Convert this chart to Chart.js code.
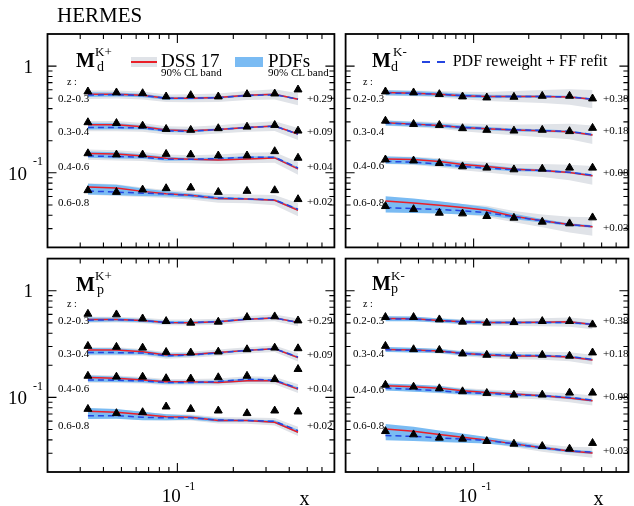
<!DOCTYPE html>
<html><head><meta charset="utf-8">
<script src="https://cdn.jsdelivr.net/npm/chart.js@4.4.1/dist/chart.umd.min.js"></script>
<style>
html,body{margin:0;padding:0;background:#fff;}
#wrap{position:relative;width:634px;height:506px;overflow:hidden;font-family:"Liberation Serif","Times New Roman",serif;color:#000;}
canvas{position:absolute;}
.t{position:absolute;white-space:nowrap;line-height:1;z-index:5;}
.sw{position:absolute;z-index:5;}
</style></head><body>
<div id="wrap">
<canvas id="cTL" width="340" height="253" style="left:0;top:0"></canvas>
<canvas id="cTR" width="294" height="253" style="left:340px;top:0"></canvas>
<canvas id="cBL" width="340" height="253" style="left:0;top:253px"></canvas>
<canvas id="cBR" width="294" height="253" style="left:340px;top:253px"></canvas>
</div>
<script>
// ---------------- data ----------------
const xValues = [0.033, 0.047, 0.065, 0.087, 0.118, 0.166, 0.237, 0.334, 0.446];
const zBins = ['0.2-0.3', '0.3-0.4', '0.4-0.6', '0.6-0.8'];
const offsetsKplus = ['+0.29', '+0.09', '+0.04', '+0.02'];
const offsetsKminus = ['+0.38', '+0.18', '+0.08', '+0.03'];
const yTickValues = [1, 0.1];
const yTickBase = ['1', '10'];
const yTickSup = ['', '-1'];
const xTickValues = [0.1];
const xTickBase = ['10'];
const xTickSup = ['-1'];

// deuteron K+ (HERMES points, DSS17, PDF reweight + FF refit), values as plotted (incl. offsets)
const dKp_data = [
  [0.577, 0.565, 0.556, 0.518, 0.533, 0.518, 0.545, 0.552, 0.602],
  [0.297, 0.292, 0.276, 0.257, 0.252, 0.261, 0.270, 0.280, 0.248],
  [0.152, 0.148, 0.148, 0.150, 0.148, 0.145, 0.145, 0.159, 0.138],
  [0.0685, 0.066, 0.0695, 0.0715, 0.0725, 0.066, 0.0675, 0.0685, 0.0565]
];
const dKp_dss = [
  [0.545, 0.545, 0.533, 0.500, 0.500, 0.507, 0.533, 0.545, 0.489],
  [0.282, 0.282, 0.270, 0.252, 0.248, 0.255, 0.266, 0.274, 0.231],
  [0.152, 0.150, 0.144, 0.137, 0.134, 0.132, 0.135, 0.138, 0.109],
  [0.0735, 0.072, 0.067, 0.0637, 0.0615, 0.0573, 0.0569, 0.0552, 0.0446]
];
const dKp_refit = [
  [0.535, 0.540, 0.530, 0.500, 0.500, 0.505, 0.530, 0.540, 0.490],
  [0.266, 0.266, 0.263, 0.248, 0.245, 0.255, 0.266, 0.274, 0.231],
  [0.144, 0.142, 0.140, 0.134, 0.134, 0.136, 0.140, 0.140, 0.111],
  [0.0675, 0.066, 0.0645, 0.0632, 0.0613, 0.0582, 0.0569, 0.0558, 0.0455]
];
// deuteron K-
const dKm_data = [
  [0.577, 0.565, 0.545, 0.518, 0.507, 0.514, 0.525, 0.525, 0.496],
  [0.307, 0.286, 0.280, 0.261, 0.252, 0.248, 0.252, 0.245, 0.263],
  [0.133, 0.130, 0.123, 0.1146, 0.1114, 0.1074, 0.109, 0.1114, 0.1114],
  [0.0486, 0.0455, 0.0421, 0.0415, 0.0392, 0.0378, 0.0347, 0.0335, 0.0381]
];
const dKm_dss = [
  [0.565, 0.556, 0.545, 0.529, 0.518, 0.518, 0.518, 0.514, 0.489],
  [0.294, 0.286, 0.278, 0.266, 0.259, 0.252, 0.248, 0.243, 0.226],
  [0.135, 0.133, 0.1275, 0.1196, 0.1146, 0.1081, 0.1051, 0.1007, 0.0938],
  [0.0545, 0.0522, 0.0496, 0.0472, 0.0446, 0.0392, 0.0355, 0.0328, 0.0312]
];
const dKm_refit = [
  [0.560, 0.555, 0.545, 0.530, 0.520, 0.520, 0.520, 0.515, 0.490],
  [0.292, 0.285, 0.278, 0.267, 0.260, 0.253, 0.249, 0.244, 0.228],
  [0.128, 0.126, 0.121, 0.1146, 0.111, 0.1067, 0.1051, 0.101, 0.0952],
  [0.0472, 0.0462, 0.0453, 0.0441, 0.0424, 0.0387, 0.0355, 0.0326, 0.0315]
];
// proton K+
const pKp_data = [
  [0.606, 0.598, 0.548, 0.518, 0.500, 0.511, 0.565, 0.573, 0.525],
  [0.303, 0.297, 0.292, 0.266, 0.263, 0.268, 0.282, 0.292, 0.288],
  [0.159, 0.156, 0.156, 0.151, 0.150, 0.154, 0.159, 0.148, 0.184],
  [0.0778, 0.0710, 0.0725, 0.0819, 0.0778, 0.0751, 0.0710, 0.0751, 0.0735]
];
const pKp_dss = [
  [0.537, 0.537, 0.525, 0.503, 0.500, 0.511, 0.541, 0.556, 0.505],
  [0.278, 0.278, 0.268, 0.250, 0.253, 0.263, 0.276, 0.286, 0.236],
  [0.154, 0.151, 0.146, 0.140, 0.140, 0.138, 0.143, 0.143, 0.1196],
  [0.0741, 0.0725, 0.069, 0.066, 0.0651, 0.0607, 0.0607, 0.0585, 0.0472]
];
const pKp_refit = [
  [0.530, 0.535, 0.525, 0.505, 0.505, 0.513, 0.540, 0.555, 0.505],
  [0.263, 0.263, 0.261, 0.245, 0.250, 0.261, 0.276, 0.286, 0.239],
  [0.146, 0.145, 0.143, 0.138, 0.138, 0.141, 0.148, 0.145, 0.122],
  [0.0675, 0.0675, 0.0651, 0.0644, 0.0644, 0.0614, 0.0607, 0.0597, 0.0488]
];
// proton K-
const pKm_data = [
  [0.565, 0.565, 0.537, 0.511, 0.500, 0.507, 0.518, 0.518, 0.482],
  [0.303, 0.282, 0.278, 0.257, 0.250, 0.245, 0.250, 0.245, 0.263],
  [0.131, 0.1257, 0.1213, 0.1138, 0.1097, 0.1059, 0.1059, 0.1105, 0.1105],
  [0.0482, 0.0449, 0.0418, 0.0409, 0.0389, 0.0367, 0.0349, 0.033, 0.0373]
];
const pKm_dss = [
  [0.548, 0.545, 0.525, 0.511, 0.503, 0.503, 0.507, 0.511, 0.482],
  [0.282, 0.278, 0.272, 0.259, 0.250, 0.245, 0.245, 0.239, 0.224],
  [0.1285, 0.1257, 0.1222, 0.1154, 0.1114, 0.1074, 0.1037, 0.0986, 0.0931],
  [0.0507, 0.0482, 0.0449, 0.0424, 0.040, 0.0367, 0.0337, 0.0314, 0.0301]
];
const pKm_refit = [
  [0.545, 0.543, 0.525, 0.510, 0.505, 0.505, 0.505, 0.503, 0.485],
  [0.280, 0.276, 0.272, 0.258, 0.252, 0.248, 0.246, 0.242, 0.227],
  [0.1222, 0.1189, 0.1154, 0.1114, 0.1089, 0.1059, 0.1037, 0.100, 0.094],
  [0.044, 0.0431, 0.0418, 0.0406, 0.0395, 0.0367, 0.0337, 0.0314, 0.0307]
];
// band half-widths (log10 units)
const dKp_grayW = [0.036, 0.036, 0.036, 0.036, 0.037, 0.039, 0.041, 0.046, 0.056];
const dKp_blueW = [0.018, 0.017, 0.015, 0.013, 0.011, 0.010, 0.009, 0.008, 0.008];
const dKp_blueW4 = [0.032, 0.030, 0.027, 0.022, 0.018, 0.014, 0.010, 0.009, 0.008];
const dKm_grayW = [0.025, 0.027, 0.030, 0.035, 0.042, 0.050, 0.060, 0.072, 0.085];
const dKm_blueW = [0.022, 0.021, 0.019, 0.017, 0.015, 0.013, 0.011, 0.010, 0.009];
const dKm_blueW4 = [0.045, 0.042, 0.038, 0.034, 0.028, 0.022, 0.016, 0.012, 0.010];
const pKp_grayW = [0.026, 0.026, 0.026, 0.026, 0.026, 0.028, 0.029, 0.031, 0.036];
const pKp_blueW = [0.018, 0.017, 0.015, 0.013, 0.011, 0.010, 0.009, 0.008, 0.008];
const pKp_blueW4 = [0.032, 0.030, 0.027, 0.022, 0.018, 0.014, 0.010, 0.009, 0.008];
const pKm_grayW = [0.020, 0.020, 0.022, 0.025, 0.028, 0.032, 0.036, 0.040, 0.045];
const pKm_blueW = [0.022, 0.021, 0.019, 0.017, 0.015, 0.013, 0.011, 0.010, 0.009];
const pKm_blueW4 = [0.045, 0.042, 0.038, 0.034, 0.028, 0.022, 0.016, 0.012, 0.010];

// ---------------- styles ----------------
const RED = '#ea1f28', BLUE = '#2545e0', GRAY = 'rgb(224,227,232)', BLUEBAND = 'rgb(122,187,243)';
const SERIF = '"Liberation Serif","Times New Roman",serif';

function buildDatasets(dataRows, dssRows, refitRows, grayW, blueW, blueW4) {
  const ds = [];
  const pts = arr => arr.map((v, i) => ({x: xValues[i], y: v}));
  const none = {borderColor: 'rgba(0,0,0,0)', borderWidth: 0, pointRadius: 0};
  for (let r = 0; r < 4; r++) {
    const red = dssRows[r], dash = refitRows[r];
    const bw = r === 3 ? blueW4 : blueW;
    const lo = w => red.map((v, i) => Math.min(v, dash[i]) / Math.pow(10, w[i]));
    const hi = w => red.map((v, i) => Math.max(v, dash[i]) * Math.pow(10, w[i]));
    ds.push(Object.assign({data: pts(lo(grayW)), fill: false, order: 6}, none));
    ds.push(Object.assign({data: pts(hi(grayW)), fill: '-1', backgroundColor: GRAY, order: 6}, none));
    ds.push(Object.assign({data: pts(lo(bw)), fill: false, order: 5}, none));
    ds.push(Object.assign({data: pts(hi(bw)), fill: '-1', backgroundColor: BLUEBAND, order: 5}, none));
    ds.push({data: pts(red), borderColor: RED, borderWidth: 1.5, pointRadius: 0, fill: false, order: 3});
    ds.push({data: pts(dash), borderColor: BLUE, borderWidth: 1.5, borderDash: [6, 4], pointRadius: 0, fill: false, order: 2});
    ds.push({data: pts(dataRows[r]), showLine: false, pointStyle: 'triangle', pointRadius: 4.6,
             pointBackgroundColor: '#000', pointBorderColor: '#000', pointBorderWidth: 1, order: 1});
  }
  return ds;
}

const frameTicks = {
  id: 'frameTicks',
  afterDatasetsDraw(chart, args, o) {
    const ctx = chart.ctx, a = chart.chartArea, xs = chart.scales.x, ys = chart.scales.y;
    ctx.save();
    ctx.strokeStyle = '#000';
    ctx.lineWidth = 1.1;
    ctx.beginPath();
    for (const d of [0.01, 0.1, 1]) {
      for (let m = 1; m <= 9; m++) {
        const v = d * m;
        const L = m === 1 ? 9 : 5;
        if (v > xs.min * 1.0001 && v < xs.max * 0.9999) {
          const px = xs.getPixelForValue(v);
          ctx.moveTo(px, a.bottom); ctx.lineTo(px, a.bottom - L);
          ctx.moveTo(px, a.top); ctx.lineTo(px, a.top + L);
        }
        if (v > ys.min * 1.0001 && v < ys.max * 0.9999) {
          const py = ys.getPixelForValue(v);
          ctx.moveTo(a.left, py); ctx.lineTo(a.left + L, py);
          ctx.moveTo(a.right, py); ctx.lineTo(a.right - L, py);
        }
      }
    }
    ctx.stroke();
    ctx.lineWidth = 1.8;
    ctx.strokeRect(a.left, a.top, a.right - a.left, a.bottom - a.top);
    ctx.fillStyle = '#000';
    ctx.textBaseline = 'alphabetic';
    if (o.yLabels) {
      yTickValues.forEach((v, i) => {
        const py = ys.getPixelForValue(v);
        if (yTickSup[i]) {
          ctx.font = '12px ' + SERIF; ctx.textAlign = 'right';
          ctx.fillText(yTickSup[i], a.left - 4.5, py - 7.5);
          const sw = ctx.measureText(yTickSup[i]).width;
          ctx.font = '19px ' + SERIF;
          ctx.fillText(yTickBase[i], a.left - 4.5 - sw - 6, py + 7);
        } else {
          ctx.font = '19px ' + SERIF; ctx.textAlign = 'right';
          ctx.fillText(yTickBase[i], a.left - 14.5, py + 6.5);
        }
      });
    }
    if (o.xLabels) {
      xTickValues.forEach((v, i) => {
        const px = xs.getPixelForValue(v);
        ctx.font = '19px ' + SERIF; ctx.textAlign = 'right';
        ctx.fillText(xTickBase[i], px + 3.4, a.bottom + 29.5);
        ctx.font = '12px ' + SERIF; ctx.textAlign = 'left';
        ctx.fillText(xTickSup[i], px + 8, a.bottom + 18);
      });
      ctx.font = '20px ' + SERIF; ctx.textAlign = 'left';
      ctx.fillText('x', a.right - 35, a.bottom + 33);
    }
    ctx.restore();
  }
};

function makeChart(id, pad, dataRows, dssRows, refitRows, grayW, blueW, blueW4, yLabels, xLabels) {
  return new Chart(document.getElementById(id), {
    type: 'line',
    data: {datasets: buildDatasets(dataRows, dssRows, refitRows, grayW, blueW, blueW4)},
    options: {
      responsive: false, animation: false, devicePixelRatio: 1, events: [],
      layout: {padding: pad},
      plugins: {legend: {display: false}, tooltip: {enabled: false}, frameTicks: {yLabels, xLabels}},
      scales: {
        x: {type: 'logarithmic', min: 0.02, max: 0.7, display: false},
        y: {type: 'logarithmic', min: 0.02, max: 2, display: false}
      }
    },
    plugins: [frameTicks]
  });
}

makeChart('cTL', {left: 47.5, right: 3, top: 34, bottom: 4}, dKp_data, dKp_dss, dKp_refit, dKp_grayW, dKp_blueW, dKp_blueW4, true, false);
makeChart('cTR', {left: 4.5, right: 1.2, top: 34, bottom: 4}, dKm_data, dKm_dss, dKm_refit, dKm_grayW, dKm_blueW, dKm_blueW4, false, false);
makeChart('cBL', {left: 47.5, right: 3, top: 4, bottom: 34}, pKp_data, pKp_dss, pKp_refit, pKp_grayW, pKp_blueW, pKp_blueW4, true, true);
makeChart('cBR', {left: 4.5, right: 1.2, top: 4, bottom: 34}, pKm_data, pKm_dss, pKm_refit, pKm_grayW, pKm_blueW, pKm_blueW4, false, true);

// ---------------- text annotations ----------------
const wrap = document.getElementById('wrap');
function txt(s, x, base, size, extra) {
  const d = document.createElement('div');
  d.className = 't';
  d.textContent = s;
  d.style.left = x + 'px';
  d.style.top = (base - 0.8375 * size) + 'px';
  d.style.fontSize = size + 'px';
  if (extra) Object.assign(d.style, extra);
  wrap.appendChild(d);
}
function box(x, y, w, h, bg) {
  const d = document.createElement('div');
  d.className = 'sw';
  Object.assign(d.style, {left: x + 'px', top: y + 'px', width: w + 'px', height: h + 'px', background: bg});
  wrap.appendChild(d);
}

txt('HERMES', 57, 23, 21);

// panel titles
txt('M', 76, 67, 20, {fontWeight: 'bold'}); txt('K+', 95, 56, 13); txt('d', 97, 71.5, 14);
txt('M', 372, 67, 20, {fontWeight: 'bold'}); txt('K-', 393, 56, 13); txt('d', 391, 71.5, 14);
txt('M', 76, 291, 20, {fontWeight: 'bold'}); txt('K+', 95, 280, 13); txt('p', 97, 295, 14);
txt('M', 372, 290, 20, {fontWeight: 'bold'}); txt('K-', 391, 280, 13); txt('p', 391, 294, 14);

// legends
box(131, 57, 26, 10, GRAY); box(131, 61, 26, 1.7, RED);
txt('DSS 17', 161, 66.5, 19); txt('90% CL band', 161, 76.5, 11);
box(235, 57, 28, 10, BLUEBAND);
txt('PDFs', 268, 66.5, 19); txt('90% CL band', 268, 76.5, 11);
box(421.7, 61, 8.3, 1.6, BLUE); box(436.7, 61, 8.3, 1.6, BLUE);
txt('PDF reweight + FF refit', 452.7, 66, 16);

// z labels
txt('z :', 67, 85, 10); txt('z :', 363, 85, 10); txt('z :', 67, 307, 10); txt('z :', 363, 307, 10);
const rowY_TL = [99, 132, 167, 203], rowY_TR = [99, 131.7, 165.7, 203];
const rowY_BL = [321, 354, 389, 425.7], rowY_BR = [321, 354, 389.3, 425.7];
const offY_TL = [99, 132, 167, 202], offY_TR = [99, 131, 173, 228];
const offY_BL = [321, 355, 389, 425.7], offY_BR = [321, 353.3, 396.7, 451];
zBins.forEach((z, i) => {
  txt(z, 58, rowY_TL[i] + 3.7, 11);
  txt(z, 353, rowY_TR[i] + 3.7, 11);
  txt(z, 58, rowY_BL[i] + 3.7, 11);
  txt(z, 353, rowY_BR[i] + 3.7, 11);
  txt(offsetsKplus[i], 307, offY_TL[i] + 3.7, 11);
  txt(offsetsKminus[i], 603, offY_TR[i] + 3.7, 11);
  txt(offsetsKplus[i], 307, offY_BL[i] + 3.7, 11);
  txt(offsetsKminus[i], 603, offY_BR[i] + 3.7, 11);
});
</script>
</body></html>
